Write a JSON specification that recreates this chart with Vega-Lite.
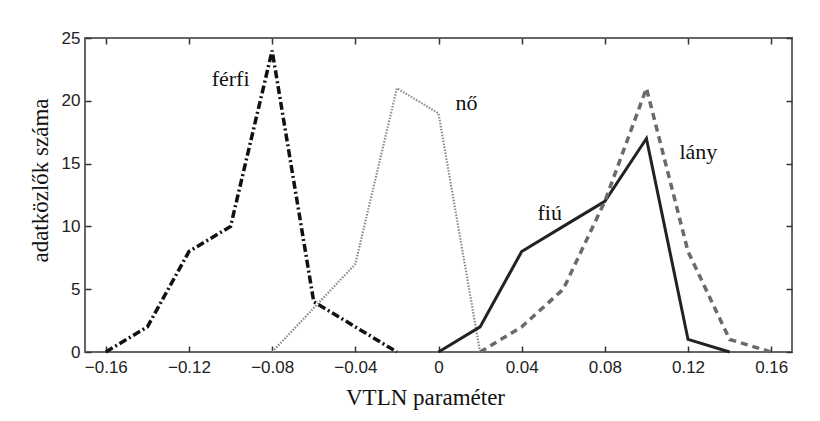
{
  "$schema": "https://vega.github.io/schema/vega-lite/v6.json",
  "width": 707,
  "height": 314,
  "autosize": {"type": "none"},
  "padding": {"left": 85, "top": 38, "right": 28, "bottom": 69},
  "background": "white",
  "config": {"view": {"stroke": "#666666", "strokeWidth": 2}},
  "datasets": {
    "curves": [
      {"group": "férfi", "vtln": -0.16, "count": 0},
      {"group": "férfi", "vtln": -0.14, "count": 2},
      {"group": "férfi", "vtln": -0.12, "count": 8},
      {"group": "férfi", "vtln": -0.10, "count": 10},
      {"group": "férfi", "vtln": -0.08, "count": 24},
      {"group": "férfi", "vtln": -0.06, "count": 4},
      {"group": "férfi", "vtln": -0.04, "count": 2},
      {"group": "férfi", "vtln": -0.02, "count": 0},
      {"group": "nő", "vtln": -0.08, "count": 0},
      {"group": "nő", "vtln": -0.06, "count": 3.5},
      {"group": "nő", "vtln": -0.04, "count": 7},
      {"group": "nő", "vtln": -0.02, "count": 21},
      {"group": "nő", "vtln": 0.0, "count": 19},
      {"group": "nő", "vtln": 0.02, "count": 0},
      {"group": "fiú", "vtln": 0.0, "count": 0},
      {"group": "fiú", "vtln": 0.02, "count": 2},
      {"group": "fiú", "vtln": 0.04, "count": 8},
      {"group": "fiú", "vtln": 0.06, "count": 10},
      {"group": "fiú", "vtln": 0.08, "count": 12},
      {"group": "fiú", "vtln": 0.10, "count": 17},
      {"group": "fiú", "vtln": 0.12, "count": 1},
      {"group": "fiú", "vtln": 0.14, "count": 0},
      {"group": "lány", "vtln": 0.02, "count": 0},
      {"group": "lány", "vtln": 0.04, "count": 2},
      {"group": "lány", "vtln": 0.06, "count": 5},
      {"group": "lány", "vtln": 0.08, "count": 12},
      {"group": "lány", "vtln": 0.10, "count": 21},
      {"group": "lány", "vtln": 0.12, "count": 8},
      {"group": "lány", "vtln": 0.14, "count": 1},
      {"group": "lány", "vtln": 0.16, "count": 0}
    ],
    "labels": [
      {"label": "férfi", "vtln": -0.10, "count": 21.7},
      {"label": "nő", "vtln": 0.0135, "count": 19.8},
      {"label": "fiú", "vtln": 0.0535, "count": 11.1},
      {"label": "lány", "vtln": 0.125, "count": 15.9}
    ]
  },
  "layer": [
    {
      "data": {"name": "curves"},
      "transform": [{"filter": "datum.group === 'férfi'"}],
      "mark": {"type": "line", "color": "#111111", "strokeWidth": 3.5, "strokeDash": [8, 3, 2, 3]},
      "encoding": {
        "x": {
          "field": "vtln", "type": "quantitative",
          "scale": {"domain": [-0.17, 0.17], "nice": false, "zero": false},
          "axis": {
            "orient": "bottom",
            "values": [-0.16, -0.12, -0.08, -0.04, 0, 0.04, 0.08, 0.12, 0.16],
            "format": "~g",
            "grid": false, "ticks": false, "domain": false,
            "labelFont": "Liberation Sans", "labelFontSize": 17, "labelColor": "#222222", "labelPadding": 7,
            "title": "VTLN paraméter", "titleFont": "Liberation Serif", "titleFontSize": 23,
            "titleFontWeight": "normal", "titleColor": "#111111",
            "titleX": 340, "titleY": 52, "titleBaseline": "alphabetic"
          }
        },
        "y": {
          "field": "count", "type": "quantitative",
          "scale": {"domain": [0, 25], "nice": false},
          "axis": {
            "orient": "left",
            "values": [0, 5, 10, 15, 20, 25],
            "grid": false, "ticks": false, "domain": false,
            "labelFont": "Liberation Sans", "labelFontSize": 17, "labelColor": "#222222", "labelPadding": 5,
            "title": "adatközlők száma", "titleFont": "Liberation Serif", "titleFontSize": 23,
            "titleFontWeight": "normal", "titleColor": "#111111",
            "titleX": -38, "titleY": 142, "titleBaseline": "alphabetic"
          }
        }
      }
    },
    {
      "data": {"name": "curves"},
      "transform": [{"filter": "datum.group === 'nő'"}],
      "mark": {"type": "line", "color": "#8a8a8a", "strokeWidth": 2.2, "strokeDash": [1.5, 1.5]},
      "encoding": {
        "x": {
          "field": "vtln", "type": "quantitative",
          "axis": {
            "orient": "bottom", "offset": -6,
            "values": [-0.16, -0.12, -0.08, -0.04, 0, 0.04, 0.08, 0.12, 0.16],
            "labels": false, "title": null, "grid": false, "domain": false,
            "tickSize": 6, "tickColor": "#333333", "tickWidth": 1.5
          }
        },
        "y": {
          "field": "count", "type": "quantitative",
          "axis": {
            "orient": "left", "offset": -6,
            "values": [0, 5, 10, 15, 20, 25],
            "labels": false, "title": null, "grid": false, "domain": false,
            "tickSize": 6, "tickColor": "#333333", "tickWidth": 1.5
          }
        }
      }
    },
    {
      "data": {"name": "curves"},
      "transform": [{"filter": "datum.group === 'fiú'"}],
      "mark": {"type": "line", "color": "#222222", "strokeWidth": 3},
      "encoding": {
        "x": {
          "field": "vtln", "type": "quantitative",
          "axis": {
            "orient": "top", "offset": -6,
            "values": [-0.16, -0.12, -0.08, -0.04, 0, 0.04, 0.08, 0.12, 0.16],
            "labels": false, "title": null, "grid": false, "domain": false,
            "tickSize": 6, "tickColor": "#333333", "tickWidth": 1.5
          }
        },
        "y": {
          "field": "count", "type": "quantitative",
          "axis": {
            "orient": "right", "offset": -6,
            "values": [0, 5, 10, 15, 20, 25],
            "labels": false, "title": null, "grid": false, "domain": false,
            "tickSize": 6, "tickColor": "#333333", "tickWidth": 1.5
          }
        }
      }
    },
    {
      "data": {"name": "curves"},
      "transform": [{"filter": "datum.group === 'lány'"}],
      "mark": {"type": "line", "color": "#6a6a6a", "strokeWidth": 3.5, "strokeDash": [7, 5]},
      "encoding": {
        "x": {"field": "vtln", "type": "quantitative", "axis": null},
        "y": {"field": "count", "type": "quantitative", "axis": null}
      }
    },
    {
      "data": {"name": "labels"},
      "mark": {"type": "text", "font": "Liberation Serif", "fontSize": 22, "color": "#111111", "align": "center", "baseline": "middle"},
      "encoding": {
        "x": {"field": "vtln", "type": "quantitative", "axis": null},
        "y": {"field": "count", "type": "quantitative", "axis": null},
        "text": {"field": "label"}
      }
    }
  ],
  "resolve": {"axis": {"x": "independent", "y": "independent"}}
}
